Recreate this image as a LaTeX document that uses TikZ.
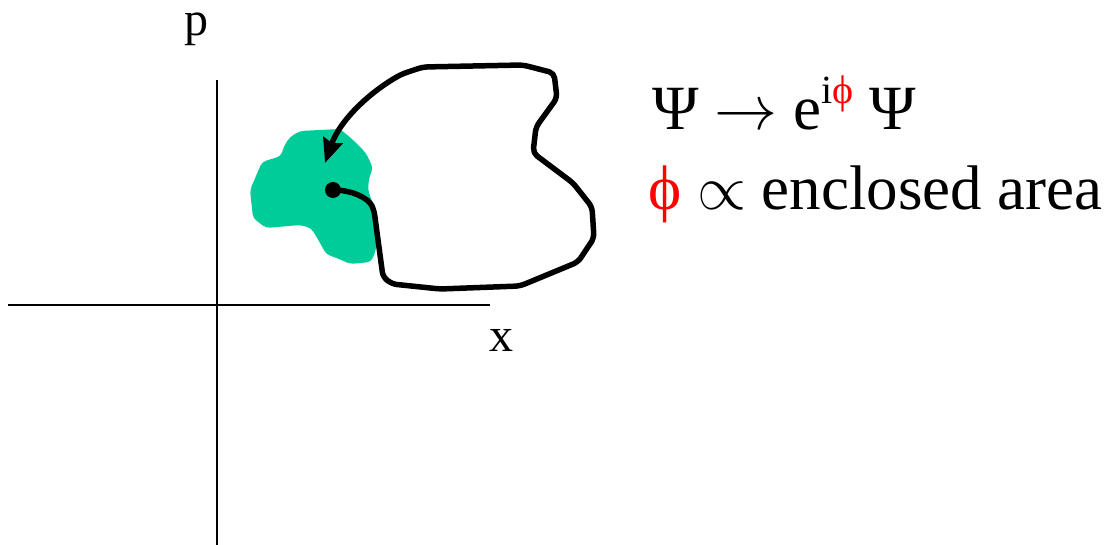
\RequirePackage{fix-cm}
\documentclass[tikz,border=0pt]{standalone}
\usepackage{fontspec}
\setmainfont{Liberation Serif}
\usetikzlibrary{arrows.meta}
\definecolor{blobgreen}{RGB}{0,204,153}
\begin{document}
\begin{tikzpicture}[x=1pt,y=-1pt,
  axis/.style={line width=2pt,black},
  loop/.style={line width=5.5pt,black,rounded corners=5pt,line join=round},
  blob/.style={fill=blobgreen,draw=none},
  lbl/.style={font=\fontsize{48}{56}\selectfont,inner sep=0pt},
  eqn/.style={font=\fontsize{63}{76}\selectfont,inner sep=0pt,anchor=base west},
  dotnode/.style={circle,fill=black,inner sep=0pt,minimum size=16pt}]
\useasboundingbox (0,0) rectangle (1111,545);
% axes
\coordinate (xl) at (8,305);
\coordinate (xr) at (490,305);
\coordinate (yb) at (217,545);
\coordinate (yt) at (217,80);
\draw[axis] (xl) -- (xr);
\draw[axis] (yb) -- (yt);
\node[lbl,anchor=base] (plabel) at (196,36) {p};
\node[lbl,anchor=base] (xlabel) at (501,352) {x};
% green blob
\fill[blob,rounded corners=4pt] (290,137) -- (300,131) -- (340,129) -- (352,139) -- (366,153) -- (373,168) -- (369,178) -- (368,190) -- (374,207) -- (378,230) -- (376,250) -- (371,262) -- (350,264) -- (339,259) -- (326,254) -- (319,241) -- (311,228) -- (300,225) -- (266,228) -- (253,218) -- (250,190) -- (262,162) -- (281,156) -- (284,146) -- cycle;
% dot and loop
\node[dotnode] (dot) at (333,190) {};
\coordinate (tip) at (325,163);
\draw[loop,-{Stealth[length=24pt,width=20pt,inset=3pt]}] (dot.center) .. controls (352,190) and (368,198) .. (374,210)
  -- (383,277) -- (392,284) -- (440,289) -- (520,286) -- (578,262) -- (594,238) -- (592,207) -- (573,183) -- (533,153) -- (536,127) -- (557,98) -- (554,73) -- (523,65) -- (423,67) -- (402,74)
  .. controls (370,92) and (340,120) .. (tip);
% text
\node[eqn] (eq1) at (652,130) {Ψ $\rightarrow$ e\raisebox{0.42em}{\fontsize{40}{48}\selectfont i\textcolor{red}{ϕ}} Ψ};
\node[eqn] (eq2) at (648,210) {\textcolor{red}{ϕ} $\propto$ enclosed area};
\end{tikzpicture}
\end{document}
